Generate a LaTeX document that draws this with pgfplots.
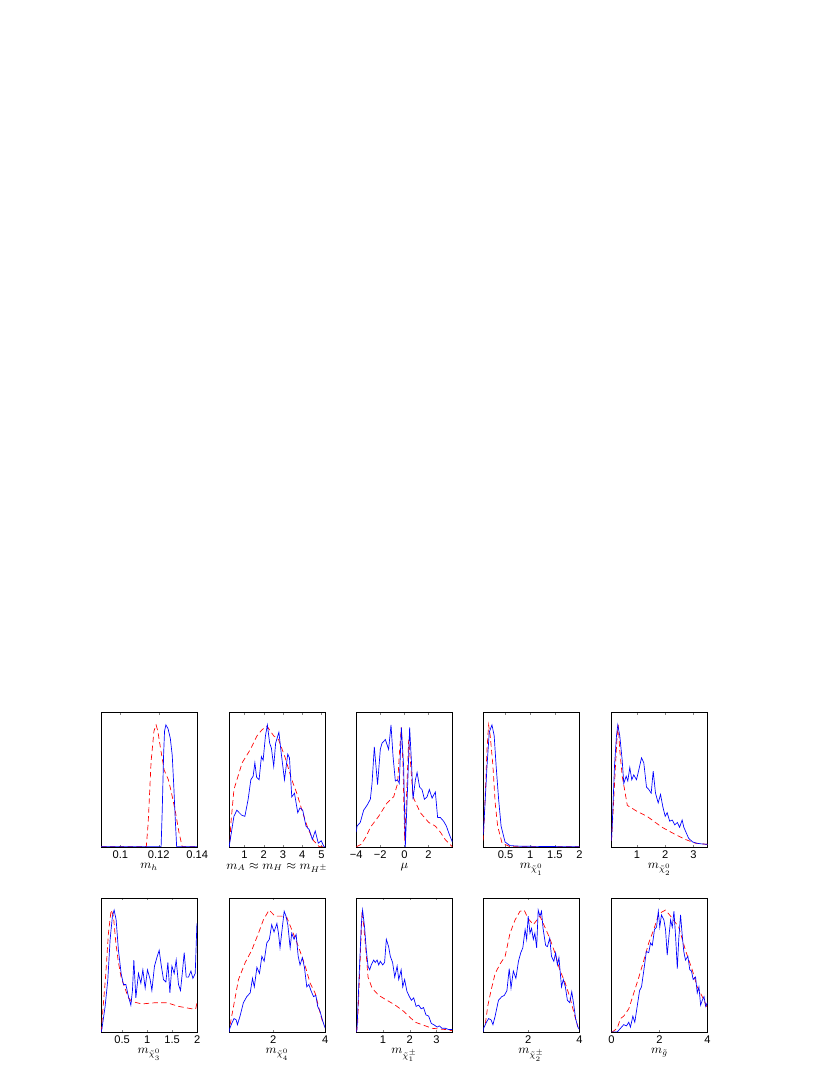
\documentclass[border=0pt]{standalone}
\usepackage{fontspec}
\usepackage{pgfplots}
\pgfplotsset{compat=1.18}
\newfontfamily\tickfont{Liberation Sans}
\pgfplotsset{
  panel/.style={
    scale only axis, width=70.8pt, height=98.8pt, anchor=north west,
    ymin=0, ymax=1.1, ytick=\empty, major tick length=1.5pt,
    xticklabel style={font=\tickfont\fontsize{8.2}{9}\selectfont, inner sep=0.5pt, yshift=-2pt},
    xlabel style={font=\fontsize{9}{10}\selectfont, inner sep=0pt, yshift=-3pt},
  },
  pb/.style={color=blue, solid, line width=0.5pt},
  pr/.style={color=red, dash pattern=on 4pt off 2.5pt, line width=0.5pt},
}
\begin{document}
\begin{tikzpicture}
\path[use as bounding box] (0,0) rectangle (612pt,792pt);

% ---- row 1 ----
\begin{axis}[panel, at={(74.5pt,266.9pt)}, xmin=0.09, xmax=0.14,
  xtick={0.1,0.12,0.14}, xticklabels={0.1,0.12,0.14}, xlabel={$m_h$}]
\addplot[pr] coordinates {(0.09,0) (0.1135,0) (0.1145,0.2) (0.116,0.7) (0.1175,0.95) (0.1186,1.0) (0.1195,0.95) (0.121,0.8) (0.1228,0.63) (0.125,0.55) (0.1265,0.45) (0.1285,0.3) (0.1305,0.12) (0.1322,0) (0.14,0)};
\addplot[pb] coordinates {(0.09,0) (0.1212,0) (0.1218,0.3) (0.1225,0.75) (0.123,0.95) (0.1237,1.0) (0.1248,0.97) (0.126,0.89) (0.127,0.75) (0.1278,0.5) (0.1285,0.25) (0.1293,0) (0.14,0)};
\end{axis}

\begin{axis}[panel, at={(168.8pt,266.9pt)}, xmin=0.2, xmax=5.2,
  xtick={1,2,3,4,5}, xticklabels={1,2,3,4,5}, xlabel={$m_A\approx m_H\approx m_{H^\pm}$}]
\addplot[pr] coordinates {(0.25,0.05) (0.28,0.17) (0.45,0.47) (0.88,0.69) (1.31,0.80) (1.65,0.91) (1.91,0.96) (2.17,0.99) (2.52,0.91) (2.77,0.88) (3.12,0.73) (3.46,0.55) (3.72,0.44) (4.03,0.28) (4.3,0.15) (4.6,0.05) (4.9,0.0) (5.2,0)};
\addplot[pb] coordinates {(0.2,0) (0.25,0.05) (0.45,0.25) (0.6,0.30) (0.85,0.26) (1.02,0.25) (1.19,0.39) (1.33,0.55) (1.45,0.58) (1.54,0.69) (1.63,0.57) (1.76,0.55) (1.88,0.74) (1.97,0.71) (2.09,0.91) (2.19,1.0) (2.31,0.85) (2.40,0.81) (2.52,0.66) (2.62,0.85) (2.79,0.94) (2.91,0.77) (3.08,0.55) (3.25,0.76) (3.34,0.73) (3.46,0.41) (3.60,0.44) (3.77,0.28) (3.89,0.32) (4.03,0.30) (4.20,0.17) (4.37,0.14) (4.53,0.06) (4.68,0.13) (4.84,0.03) (4.99,0.05) (5.14,0) (5.2,0)};
\end{axis}

\begin{axis}[panel, at={(262.5pt,266.9pt)}, xmin=-4, xmax=4,
  xtick={-4,-2,0,2}, xticklabels={−4,−2,0,2}, xlabel={$\mu$}]
\addplot[pr] coordinates {(-4,0) (-3.6,0.02) (-3.2,0.08) (-2.83,0.16) (-2.14,0.25) (-1.44,0.36) (-0.89,0.41) (-0.56,0.52) (-0.39,0.80) (-0.25,0.98) (-0.11,0.66) (0.03,0.05) (0.17,0.39) (0.36,0.88) (0.5,0.71) (0.72,0.41) (1.33,0.28) (2.03,0.20) (2.58,0.17) (3.0,0.12) (3.4,0.06) (3.8,0.02) (4,0)};
\addplot[pb] coordinates {(-4,0.12) (-3.94,0.17) (-3.67,0.20) (-3.39,0.30) (-3.11,0.34) (-2.83,0.39) (-2.69,0.52) (-2.5,0.82) (-2.23,0.51) (-2.0,0.80) (-1.86,0.85) (-1.58,0.88) (-1.31,0.80) (-1.11,1.0) (-0.94,0.74) (-0.75,0.54) (-0.56,0.55) (-0.42,0.52) (-0.25,0.98) (-0.06,0.66) (0.08,0.0) (0.27,0.49) (0.44,0.98) (0.61,0.66) (0.72,0.39) (0.92,0.55) (1.06,0.61) (1.27,0.49) (1.47,0.47) (1.67,0.39) (1.89,0.41) (2.08,0.47) (2.31,0.40) (2.58,0.45) (2.77,0.24) (3.0,0.24) (3.27,0.21) (3.5,0.17) (3.75,0.1) (4,0.04)};
\end{axis}

\begin{axis}[panel, at={(356.1pt,266.9pt)}, xmin=0.05, xmax=2,
  xtick={0.5,1,1.5,2}, xticklabels={0.5,1,1.5,2}, xlabel={$m_{\tilde\chi^0_1}$}]
\addplot[pr] coordinates {(0.05,0.05) (0.09,0.44) (0.124,0.80) (0.157,1.0) (0.19,0.91) (0.245,0.66) (0.29,0.36) (0.34,0.17) (0.43,0.03) (0.6,0) (2,0)};
\addplot[pb] coordinates {(0.05,0.1) (0.07,0.25) (0.124,0.66) (0.17,0.94) (0.225,1.0) (0.27,0.91) (0.31,0.66) (0.36,0.39) (0.41,0.17) (0.49,0.04) (0.59,0.01) (0.8,0.005) (2,0)};
\end{axis}

\begin{axis}[panel, at={(450.5pt,266.9pt)}, xmin=0.1, xmax=3.5,
  xtick={1,2,3}, xticklabels={1,2,3}, xlabel={$m_{\tilde\chi^0_2}$}]
\addplot[pr] coordinates {(0.1,0.05) (0.16,0.30) (0.24,0.66) (0.30,0.91) (0.34,1.0) (0.39,0.80) (0.48,0.58) (0.66,0.34) (1.01,0.29) (1.36,0.25) (1.89,0.16) (2.37,0.10) (2.72,0.06) (3.07,0.03) (3.5,0.02)};
\addplot[pb] coordinates {(0.1,0.05) (0.125,0.17) (0.206,0.66) (0.277,0.91) (0.323,1.0) (0.394,0.91) (0.479,0.71) (0.535,0.52) (0.62,0.58) (0.677,0.54) (0.748,0.65) (0.819,0.55) (0.889,0.59) (0.985,0.55) (1.066,0.63) (1.162,0.73) (1.243,0.69) (1.339,0.49) (1.42,0.47) (1.505,0.44) (1.576,0.62) (1.658,0.44) (1.753,0.36) (1.835,0.43) (1.916,0.33) (2.0,0.25) (2.07,0.28) (2.16,0.21) (2.25,0.22) (2.34,0.18) (2.43,0.20) (2.51,0.16) (2.60,0.22) (2.66,0.16) (2.83,0.07) (2.97,0.04) (3.11,0.03) (3.25,0.025) (3.5,0.02)};
\end{axis}

% ---- row 2 ----
\begin{axis}[panel, at={(74.5pt,130.5pt)}, xmin=0.08, xmax=2,
  xtick={0.5,1,1.5,2}, xticklabels={0.5,1,1.5,2}, xlabel={$m_{\tilde\chi^0_3}$}]
\addplot[pr] coordinates {(0.08,0) (0.094,0.07) (0.174,0.48) (0.226,0.81) (0.28,1.0) (0.326,0.95) (0.374,0.73) (0.426,0.57) (0.48,0.45) (0.546,0.37) (0.626,0.28) (0.694,0.25) (0.894,0.23) (1.16,0.24) (1.394,0.24) (1.626,0.21) (1.894,0.19) (1.97,0.19) (2,0.25)};
\addplot[pb] coordinates {(0.08,0) (0.094,0.02) (0.16,0.21) (0.214,0.43) (0.26,0.76) (0.306,0.95) (0.34,1.0) (0.38,0.92) (0.426,0.67) (0.48,0.48) (0.526,0.39) (0.574,0.39) (0.626,0.29) (0.674,0.22) (0.706,0.34) (0.734,0.59) (0.774,0.28) (0.826,0.48) (0.874,0.40) (0.914,0.51) (0.96,0.36) (1.006,0.51) (1.06,0.43) (1.094,0.34) (1.146,0.54) (1.194,0.61) (1.24,0.67) (1.28,0.55) (1.326,0.43) (1.374,0.41) (1.414,0.57) (1.454,0.32) (1.494,0.54) (1.54,0.48) (1.58,0.59) (1.626,0.39) (1.666,0.34) (1.706,0.50) (1.74,0.65) (1.78,0.45) (1.826,0.45) (1.874,0.50) (1.914,0.44) (1.96,0.48) (1.994,0.89)};
\end{axis}

\begin{axis}[panel, at={(168.8pt,130.5pt)}, xmin=0.3, xmax=4,
  xtick={2,4}, xticklabels={2,4}, xlabel={$m_{\tilde\chi^0_4}$}]
\addplot[pr] coordinates {(0.34,0.06) (0.47,0.21) (0.66,0.43) (0.92,0.57) (1.17,0.67) (1.43,0.81) (1.62,0.92) (1.84,1.0) (2.07,0.95) (2.33,0.95) (2.52,0.94) (2.71,0.84) (2.97,0.70) (3.23,0.54) (3.42,0.40) (3.61,0.32) (3.80,0.16) (3.93,0.06)};
\addplot[pb] coordinates {(0.3,0) (0.31,0.02) (0.40,0.07) (0.49,0.11) (0.57,0.10) (0.62,0.06) (0.72,0.13) (0.85,0.24) (0.98,0.29) (1.11,0.32) (1.20,0.44) (1.27,0.37) (1.37,0.53) (1.47,0.48) (1.56,0.62) (1.65,0.58) (1.75,0.73) (1.85,0.76) (1.94,0.88) (2.03,0.82) (2.14,0.89) (2.20,0.81) (2.26,0.69) (2.35,0.86) (2.42,0.99) (2.49,0.95) (2.56,0.88) (2.65,0.69) (2.71,0.81) (2.80,0.76) (2.88,0.80) (2.96,0.62) (3.03,0.55) (3.12,0.61) (3.20,0.53) (3.29,0.37) (3.37,0.39) (3.45,0.34) (3.55,0.29) (3.64,0.30) (3.71,0.21) (3.80,0.17) (3.89,0.10) (4.0,0.03)};
\end{axis}

\begin{axis}[panel, at={(262.5pt,130.5pt)}, xmin=0, xmax=3.6,
  xtick={1,2,3}, xticklabels={1,2,3}, xlabel={$m_{\tilde\chi^\pm_1}$}]
\addplot[pr] coordinates {(0,0) (0.05,0.07) (0.15,0.62) (0.21,0.96) (0.27,0.89) (0.36,0.67) (0.44,0.45) (0.59,0.36) (0.84,0.30) (1.15,0.26) (1.46,0.22) (1.77,0.17) (1.96,0.13) (2.21,0.08) (2.46,0.06) (2.84,0.03) (3.34,0.02) (3.6,0.01)};
\addplot[pb] coordinates {(0,0) (0.026,0.02) (0.11,0.48) (0.19,0.89) (0.236,1.0) (0.31,0.86) (0.375,0.67) (0.44,0.54) (0.50,0.51) (0.56,0.55) (0.65,0.59) (0.71,0.57) (0.78,0.59) (0.84,0.55) (0.90,0.58) (0.99,0.55) (1.06,0.57) (1.125,0.76) (1.21,0.70) (1.275,0.62) (1.36,0.57) (1.44,0.45) (1.53,0.54) (1.59,0.43) (1.68,0.51) (1.74,0.37) (1.81,0.43) (1.90,0.33) (1.99,0.29) (2.06,0.26) (2.15,0.28) (2.24,0.21) (2.34,0.22) (2.43,0.19) (2.52,0.20) (2.61,0.14) (2.71,0.13) (2.81,0.07) (2.90,0.06) (3.03,0.04) (3.11,0.05) (3.21,0.03) (3.34,0.03) (3.46,0.02) (3.6,0.02)};
\end{axis}

\begin{axis}[panel, at={(356.1pt,130.5pt)}, xmin=0.25, xmax=4,
  xtick={2,4}, xticklabels={2,4}, xlabel={$m_{\tilde\chi^\pm_2}$}]
\addplot[pr] coordinates {(0.33,0.07) (0.42,0.21) (0.55,0.34) (0.71,0.48) (0.91,0.56) (1.10,0.62) (1.29,0.81) (1.49,0.92) (1.68,0.99) (1.84,1.0) (2.0,0.93) (2.20,0.88) (2.46,0.95) (2.65,0.86) (2.84,0.77) (3.04,0.65) (3.23,0.51) (3.43,0.41) (3.62,0.29) (3.82,0.13) (3.94,0.04)};
\addplot[pb] coordinates {(0.25,0) (0.26,0.03) (0.37,0.08) (0.455,0.11) (0.55,0.10) (0.625,0.06) (0.71,0.13) (0.84,0.26) (0.97,0.29) (1.07,0.30) (1.17,0.34) (1.26,0.52) (1.33,0.36) (1.42,0.50) (1.52,0.44) (1.62,0.58) (1.71,0.65) (1.79,0.69) (1.88,0.84) (1.94,0.76) (2.0,0.95) (2.07,0.81) (2.13,0.85) (2.20,0.76) (2.26,0.81) (2.33,0.69) (2.39,1.0) (2.46,0.95) (2.52,0.99) (2.58,0.85) (2.68,0.71) (2.75,0.70) (2.84,0.77) (2.91,0.62) (3.0,0.58) (3.07,0.65) (3.14,0.55) (3.20,0.61) (3.30,0.37) (3.37,0.43) (3.45,0.37) (3.53,0.26) (3.62,0.24) (3.70,0.33) (3.78,0.22) (3.85,0.11) (3.94,0.04) (4.0,0.02)};
\end{axis}

\begin{axis}[panel, at={(450.5pt,130.5pt)}, xmin=0, xmax=4,
  xtick={0,2,4}, xticklabels={0,2,4}, xlabel={$m_{\tilde g}$}]
\addplot[pr] coordinates {(0,0) (0.03,0) (0.24,0.03) (0.375,0.11) (0.51,0.13) (0.72,0.19) (0.93,0.32) (1.14,0.45) (1.35,0.59) (1.55,0.73) (1.76,0.84) (1.97,0.97) (2.25,1.0) (2.46,0.95) (2.80,0.86) (3.08,0.67) (3.36,0.51) (3.57,0.37) (3.78,0.29) (3.96,0.21) (4,0.2)};
\addplot[pb] coordinates {(0,0) (0.24,0.0) (0.375,0.03) (0.51,0.06) (0.625,0.05) (0.72,0.08) (0.79,0.04) (0.89,0.13) (0.97,0.08) (1.07,0.21) (1.17,0.34) (1.25,0.37) (1.35,0.51) (1.45,0.66) (1.55,0.65) (1.625,0.73) (1.70,0.71) (1.79,0.84) (1.875,0.86) (1.95,0.99) (2.01,0.86) (2.08,0.96) (2.18,0.92) (2.25,0.84) (2.32,0.63) (2.39,0.78) (2.46,0.92) (2.53,0.86) (2.60,0.99) (2.67,0.78) (2.74,0.52) (2.80,0.76) (2.875,0.96) (2.95,0.78) (3.01,0.66) (3.08,0.59) (3.18,0.62) (3.26,0.51) (3.33,0.50) (3.40,0.43) (3.5,0.45) (3.57,0.32) (3.64,0.37) (3.71,0.22) (3.78,0.26) (3.85,0.29) (3.92,0.21) (3.99,0.24)};
\end{axis}
\end{tikzpicture}
\end{document}
